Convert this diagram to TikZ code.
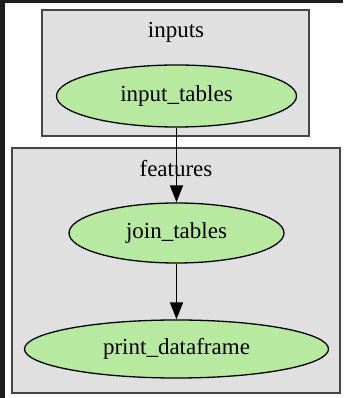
\documentclass[tikz,border=0pt]{standalone}
\usepackage{fontspec}
\setmainfont{Liberation Serif}
\usepackage{tikz}
\usetikzlibrary{shapes.geometric,arrows.meta}
\usepackage{xcolor}
\definecolor{framedark}{RGB}{30,30,30}
\definecolor{clustergray}{RGB}{224,224,224}
\definecolor{clusterline}{RGB}{70,70,70}
\definecolor{taskgreen}{RGB}{183,234,160}

\begin{document}
\begin{tikzpicture}[x=1pt,y=1pt,>=Triangle]
  \tikzset{
    cluster/.style={rectangle,draw=clusterline,fill=clustergray,line width=1.5pt,inner sep=0pt},
    clustername/.style={anchor=base,font=\fontsize{23}{27}\selectfont},
    task/.style={ellipse,draw=black,fill=taskgreen,line width=1.3pt,inner sep=0pt,
                 font=\fontsize{23}{27}\selectfont},
    edge/.style={->,line width=1.5pt,>={Triangle[length=17pt,width=13pt]}},
  }
  \useasboundingbox (0,0) rectangle (343,398);
  \fill[framedark] (0,0) rectangle (343,398);
  \fill[white] (5,0) rectangle (343,395);

  \coordinate (c1) at (175.5,325);
  \coordinate (c2) at (176,127.5);
  \coordinate (t1) at (176.5,302);
  \coordinate (t2) at (176.5,165);
  \coordinate (t3) at (176.5,49);

  % clusters
  \node[cluster,minimum width=267,minimum height=126] (inputs) at (c1) {};
  \node[cluster,minimum width=328,minimum height=245] (features) at (c2) {};
  \node[clustername] (inputsname) at (176,360) {inputs};
  \node[clustername] (featuresname) at (176,221) {features};

  % tasks
  \node[task,minimum width=240,minimum height=62] (input_tables) at (t1) {input\_tables};
  \node[task,minimum width=215,minimum height=60] (join_tables) at (t2) {join\_tables};
  \node[task,minimum width=304,minimum height=58] (print_dataframe) at (t3) {print\_dataframe};

  \draw[edge] (input_tables) -- (join_tables);
  \draw[edge] (join_tables) -- (print_dataframe);
\end{tikzpicture}
\end{document}
